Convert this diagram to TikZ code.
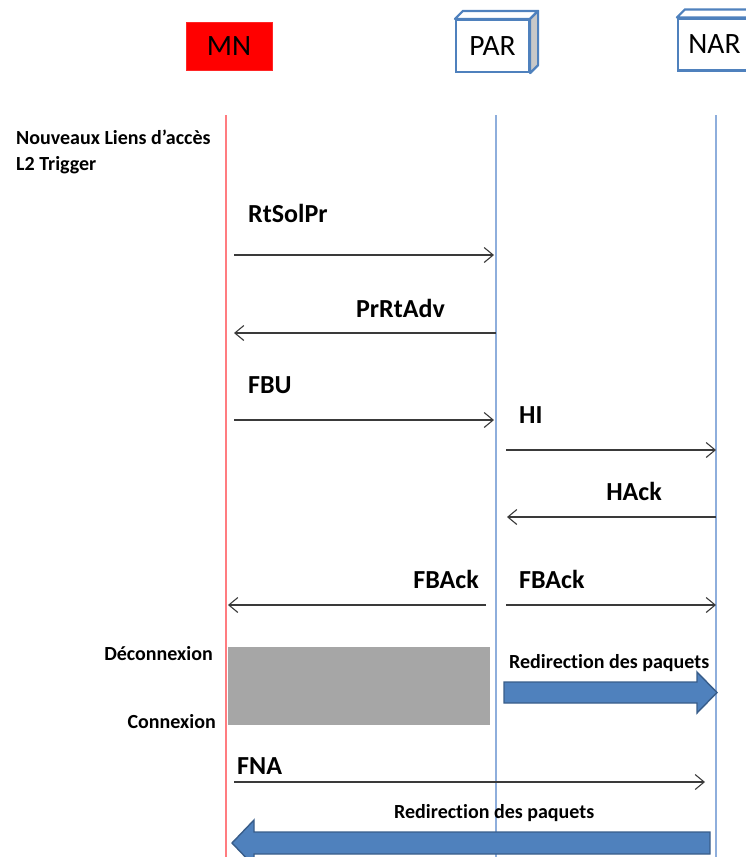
\documentclass[tikz,border=0pt]{standalone}
\usepackage{fontspec}
\setmainfont{Carlito}[Ligatures=NoCommon]
\usetikzlibrary{arrows.meta}
\definecolor{mnred}{HTML}{FF0000}
\definecolor{lifered}{HTML}{FF7C80}
\definecolor{lifeblue}{HTML}{8EAEDC}
\definecolor{boxblue}{HTML}{4F81BD}
\definecolor{boxside}{HTML}{C8C8C8}
\definecolor{arrblue}{HTML}{4F81BD}
\definecolor{arredge}{HTML}{385D8A}
\definecolor{msg}{HTML}{3A3A3A}
\definecolor{pause}{HTML}{A6A6A6}
\tikzset{
  boxlabel/.style={font=\fontsize{29.5}{34}\selectfont, inner sep=0pt},
  entity/.style={boxlabel, draw=boxblue, line width=2.2pt, fill=white, minimum width=73pt, minimum height=52pt},
  lifeline/.style={line width=1.3pt},
  message/.style={draw=msg, line width=1.1pt, -{Straight Barb[length=9pt,width=15pt,line width=1.1pt]}},
  msglabel/.style={font=\bfseries\fontsize{26}{31}\selectfont, inner sep=0pt},
  note/.style={font=\bfseries\fontsize{20}{24}\selectfont, inner sep=0pt},
  bigarrow/.style={fill=arrblue, draw=arredge, line width=1.4pt, line join=miter},
}
\begin{document}
\begin{tikzpicture}[x=1pt, y=-1pt]
\useasboundingbox (0,0) rectangle (746,857);
\clip (0,0) rectangle (746,857);

% entities
\node[boxlabel, draw=mnred!85, fill=mnred, line width=1pt, minimum width=86pt, minimum height=48pt] (MN) at (229,46) {MN};
\node[entity] (PAR) at (492.5,46) {PAR};
\node[entity] (NAR) at (714.5,44.5) {NAR};
\foreach \b in {PAR,NAR}{
  \draw[boxblue, line width=2.2pt, line join=round, fill=white]
    (\b.north west) -- ++(8,-8) -- ([xshift=8pt,yshift=8pt]\b.north east) -- (\b.north east) -- cycle;
  \draw[boxblue, line width=2.2pt, line join=round, fill=boxside]
    (\b.north east) -- ++(8,-8) -- ([xshift=8pt,yshift=8pt]\b.south east) -- (\b.south east) -- cycle;
}

% lifelines
\coordinate (MNt) at (226,115);  \coordinate (MNb) at (226,857);
\coordinate (PARt) at (496,115); \coordinate (PARb) at (496,857);
\coordinate (NARt) at (716,115); \coordinate (NARb) at (716,857);
\draw[lifeline, lifered] (MNt) -- (MNb);
\draw[lifeline, lifeblue] (PARt) -- (PARb);
\draw[lifeline, lifeblue] (NARt) -- (NARb);

% notes on the left
\node[note, anchor=base west] (n1) at (16,144) {Nouveaux Liens d’accès};
\node[note, anchor=base west] (n2) at (16,170) {L2 Trigger};
\node[note, anchor=base east] (dec) at (213,660) {Déconnexion};
\node[note, anchor=base east] (con) at (216,728) {Connexion};

% messages
\coordinate (m1a) at (234,255); \coordinate (m1b) at (494,255);
\coordinate (m2a) at (496,333); \coordinate (m2b) at (234,333);
\coordinate (m3a) at (234,420); \coordinate (m3b) at (494,420);
\coordinate (m4a) at (506,450); \coordinate (m4b) at (716,450);
\coordinate (m5a) at (716,517); \coordinate (m5b) at (507,517);
\coordinate (m6a) at (506,605); \coordinate (m6b) at (716,605);
\coordinate (m7a) at (486,605); \coordinate (m7b) at (228,605);
\coordinate (m8a) at (234,782); \coordinate (m8b) at (705,782);
\draw[message] (m1a) -- (m1b);
\draw[message] (m2a) -- (m2b);
\draw[message] (m3a) -- (m3b);
\draw[message] (m4a) -- (m4b);
\draw[message] (m5a) -- (m5b);
\draw[message] (m6a) -- (m6b);
\draw[message] (m7a) -- (m7b);
\draw[message] (m8a) -- (m8b);

\node[msglabel, anchor=base west] (l1) at (248,222) {RtSolPr};
\node[msglabel, anchor=base east] (l2) at (445,317) {PrRtAdv};
\node[msglabel, anchor=base west] (l3) at (248,393) {FBU};
\node[msglabel, anchor=base west] (l4) at (519,423) {HI};
\node[msglabel, anchor=base east] (l5) at (662,500) {HAck};
\node[msglabel, anchor=base west] (l6) at (519,588) {FBAck};
\node[msglabel, anchor=base east] (l7) at (479,588) {FBAck};
\node[msglabel, anchor=base west] (l8) at (237,774) {FNA};

% disconnection period
\fill[pause] (228,647) rectangle (490,725);

% packet redirection arrows
\draw[bigarrow] (504,682) -- (697,682) -- (697,672) -- (717,692.5) -- (697,713) -- (697,703) -- (504,703) -- cycle;
\node[note, anchor=base west] (r1) at (509,668) {Redirection des paquets};
\node[note, anchor=base west] (r2) at (394,818) {Redirection des paquets};
\draw[bigarrow] (710,832) -- (254,832) -- (254,820) -- (232,843) -- (254,866) -- (254,854) -- (710,854) -- cycle;
\end{tikzpicture}
\end{document}
